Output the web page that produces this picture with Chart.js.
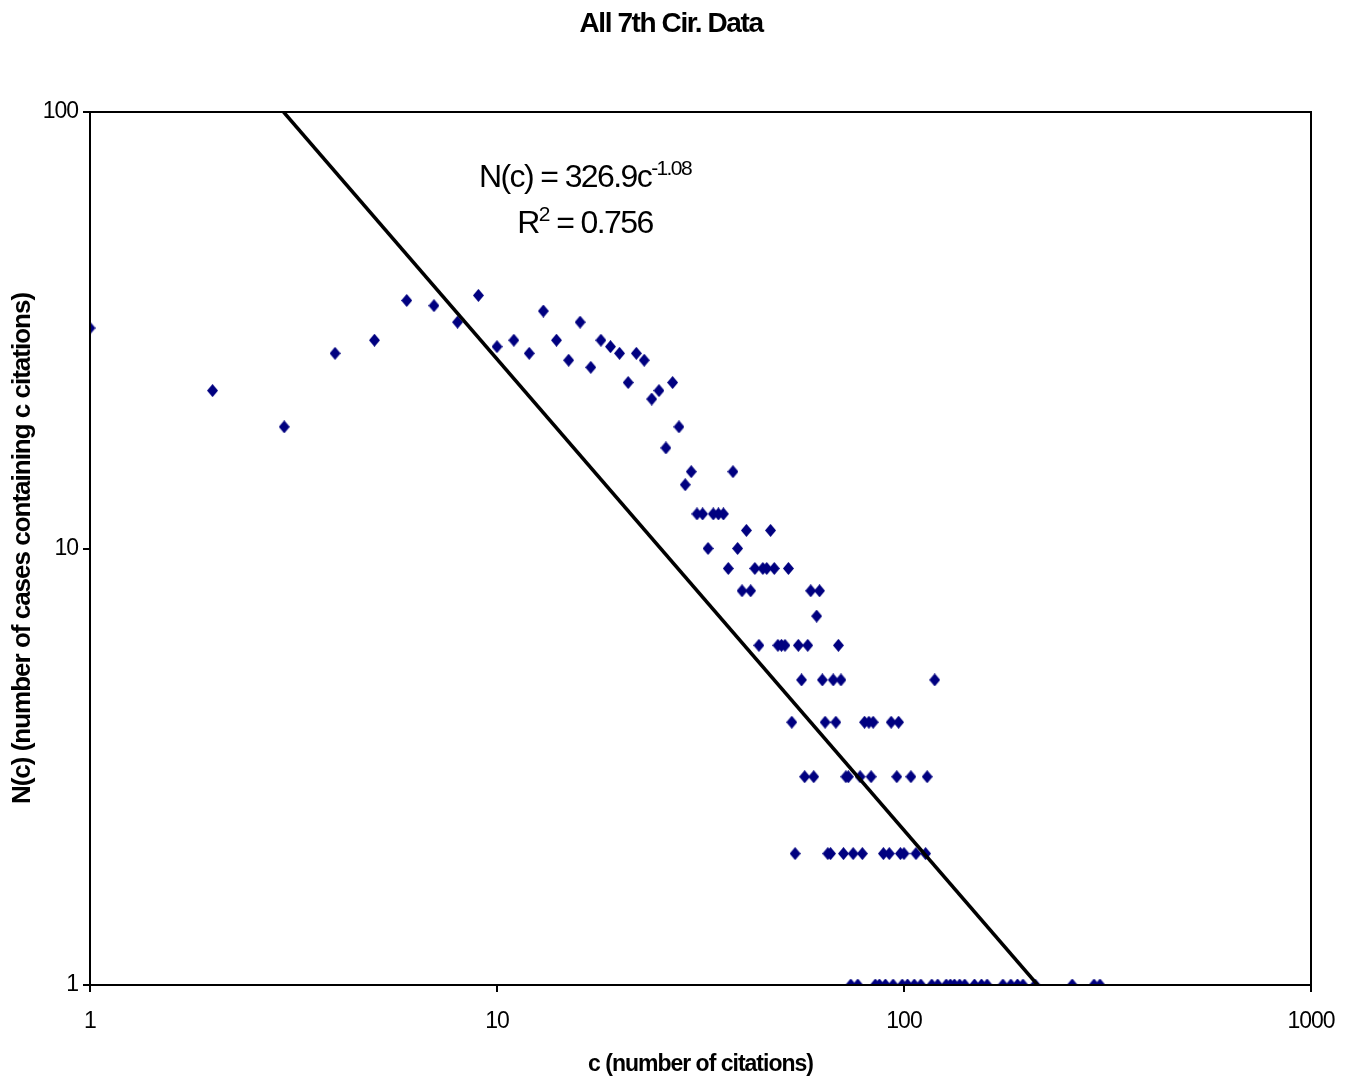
<!DOCTYPE html>
<html>
<head>
<meta charset="utf-8">
<title>All 7th Cir. Data</title>
<script src="https://cdn.jsdelivr.net/npm/chart.js@4.4.1/dist/chart.umd.min.js"></script>
<style>
  html, body { margin: 0; padding: 0; background: #fff; }
</style>
</head>
<body>
<canvas id="chart" width="1347" height="1084"></canvas>
<script>
// c = number of citations, N(c) = number of cases with c citations
const citations = [
  1, 2, 3, 4, 5, 6, 7, 8, 9, 10,
  11, 12, 13, 14, 15, 16, 17, 18, 19, 20,
  21, 22, 23, 24, 25, 26, 27, 28, 29, 30,
  31, 32, 33, 34, 35, 36, 37, 38, 39, 40,
  41, 42, 43, 44, 45, 46, 47, 48, 49, 50,
  51, 52, 53, 54, 55, 56, 57, 58, 59, 60,
  61, 62, 63, 64, 65, 66, 67, 68, 69, 70,
  71, 72, 73, 74, 75, 77, 78, 79, 80, 82,
  83, 84, 85, 87, 89, 90, 92, 93, 94, 96,
  97, 98, 99, 100, 102, 104, 106, 107, 110, 113,
  114, 117, 119, 121, 127, 130, 133, 137, 141, 149,
  155, 160, 175, 183, 190, 196, 210, 259, 293, 303
];
const cases = [
  32, 23, 19, 28, 30, 37, 36, 33, 38, 29,
  30, 28, 35, 30, 27, 33, 26, 30, 29, 28,
  24, 28, 27, 22, 23, 17, 24, 19, 14, 15,
  12, 12, 10, 12, 12, 12, 9, 15, 10, 8,
  11, 8, 9, 6, 9, 9, 11, 9, 6, 6,
  6, 9, 4, 2, 6, 5, 3, 6, 8, 3,
  7, 8, 5, 4, 2, 2, 5, 4, 6, 5,
  2, 3, 3, 1, 2, 1, 3, 2, 4, 4,
  3, 4, 1, 1, 2, 1, 2, 4, 1, 3,
  4, 2, 1, 2, 1, 3, 1, 2, 1, 2,
  3, 1, 5, 1, 1, 1, 1, 1, 1, 1,
  1, 1, 1, 1, 1, 1, 1, 1, 1, 1
];

// power-law trendline N(c) = 326.9 c^-1.08, where it enters and leaves the plot
const trendC = [2.99, 213];
const trendN = [100, 1];

const xTickValues = [1, 10, 100, 1000];
const yTickValues = [1, 10, 100];

const FONT = "'Liberation Sans', Arial, sans-serif";
const NAVY = '#000080';

// slightly tall diamond marker like the Excel one
function makeDiamond(w, h, color) {
  const c = document.createElement('canvas');
  c.width = w;
  c.height = h;
  const g = c.getContext('2d');
  g.fillStyle = color;
  g.beginPath();
  g.moveTo(w / 2, 0);
  g.lineTo(w, h / 2);
  g.lineTo(w / 2, h);
  g.lineTo(0, h / 2);
  g.closePath();
  g.fill();
  return c;
}

// draw text with a raised part, centred on cx
function drawSupLine(ctx, parts, cx, baseline) {
  const widths = parts.map(p => {
    ctx.font = p.font;
    return ctx.measureText(p.text).width;
  });
  let x = cx - widths.reduce((s, w) => s + w, 0) / 2;
  parts.forEach((p, i) => {
    ctx.font = p.font;
    ctx.fillText(p.text, x, baseline - (p.rise || 0));
    x += widths[i];
  });
}

// frame, title and the fit equation
const decorPlugin = {
  id: 'decor',
  beforeUpdate(chart) { chart.ctx.letterSpacing = '-1px'; },
  beforeDraw(chart) { chart.ctx.letterSpacing = '-1px'; },
  afterDraw(chart) {
    const { ctx, chartArea: a } = chart;
    ctx.save();
    ctx.strokeStyle = '#000';
    ctx.lineWidth = 2;
    ctx.strokeRect(a.left, a.top, a.right - a.left, a.bottom - a.top);

    ctx.fillStyle = '#000';
    ctx.textBaseline = 'alphabetic';

    // chart title
    ctx.letterSpacing = '-1.4px';
    ctx.font = 'bold 28px ' + FONT;
    ctx.textAlign = 'center';
    ctx.fillText('All 7th Cir. Data', 671, 32);

    // equation, centred over the same point as in Excel
    ctx.textAlign = 'left';
    ctx.letterSpacing = '-1.6px';
    const big = '32px ' + FONT;
    const small = '21px ' + FONT;
    const cx = a.left + 495;
    drawSupLine(ctx, [
      { text: 'N(c) = 326.9c', font: big },
      { text: '-1.08', font: small, rise: 12 }
    ], cx, 187);
    drawSupLine(ctx, [
      { text: 'R', font: big },
      { text: '2', font: small, rise: 12 },
      { text: ' = 0.756', font: big }
    ], cx, 233);
    ctx.restore();
  }
};

const diamond = makeDiamond(11, 13, NAVY);

const ctx = document.getElementById('chart').getContext('2d');
new Chart(ctx, {
  type: 'scatter',
  data: {
    datasets: [{
      label: 'N(c)',
      data: citations.map((c, i) => ({ x: c, y: cases[i] })),
      pointStyle: diamond,
      pointRadius: 6,
      pointHoverRadius: 6,
      order: 2
    }, {
      type: 'line',
      label: 'Power fit',
      data: trendC.map((c, i) => ({ x: c, y: trendN[i] })),
      borderColor: '#000',
      borderWidth: 3.5,
      pointRadius: 0,
      fill: false,
      order: 1
    }]
  },
  options: {
    responsive: false,
    animation: false,
    layout: { padding: { top: 112, right: 36, left: 0, bottom: 0 } },
    plugins: {
      legend: { display: false },
      title: { display: false },
      tooltip: { enabled: false }
    },
    scales: {
      x: {
        type: 'logarithmic',
        min: 1,
        max: 1000,
        afterFit: s => { s.height = 99; s.paddingLeft = 0; s.paddingRight = 0; },
        afterBuildTicks: s => { s.ticks = xTickValues.map(v => ({ value: v })); },
        grid: { drawOnChartArea: false, drawTicks: true, tickLength: 7, color: '#000', lineWidth: 2 },
        border: { display: true, color: '#000', width: 2 },
        ticks: {
          color: '#000',
          padding: 16,
          maxRotation: 0,
          font: { family: FONT, size: 23 },
          callback: v => String(v)
        },
        title: {
          display: true,
          text: 'c (number of citations)',
          color: '#000',
          font: { family: FONT, size: 23, weight: 'bold' },
          padding: { top: 0, bottom: 6 }
        }
      },
      y: {
        type: 'logarithmic',
        min: 1,
        max: 100,
        afterFit: s => { s.width = 90; s.paddingTop = 0; s.paddingBottom = 0; },
        afterBuildTicks: s => { s.ticks = yTickValues.map(v => ({ value: v })); },
        grid: { drawOnChartArea: false, drawTicks: true, tickLength: 7, color: '#000', lineWidth: 2 },
        border: { display: true, color: '#000', width: 2 },
        ticks: {
          color: '#000',
          padding: 5,
          font: { family: FONT, size: 23 },
          callback: v => String(v)
        },
        title: {
          display: true,
          text: 'N(c) (number of cases containing c citations)',
          color: '#000',
          font: { family: FONT, size: 26, weight: 'bold' },
          padding: { top: 7, bottom: 0 }
        }
      }
    }
  },
  plugins: [decorPlugin]
});
</script>
</body>
</html>
